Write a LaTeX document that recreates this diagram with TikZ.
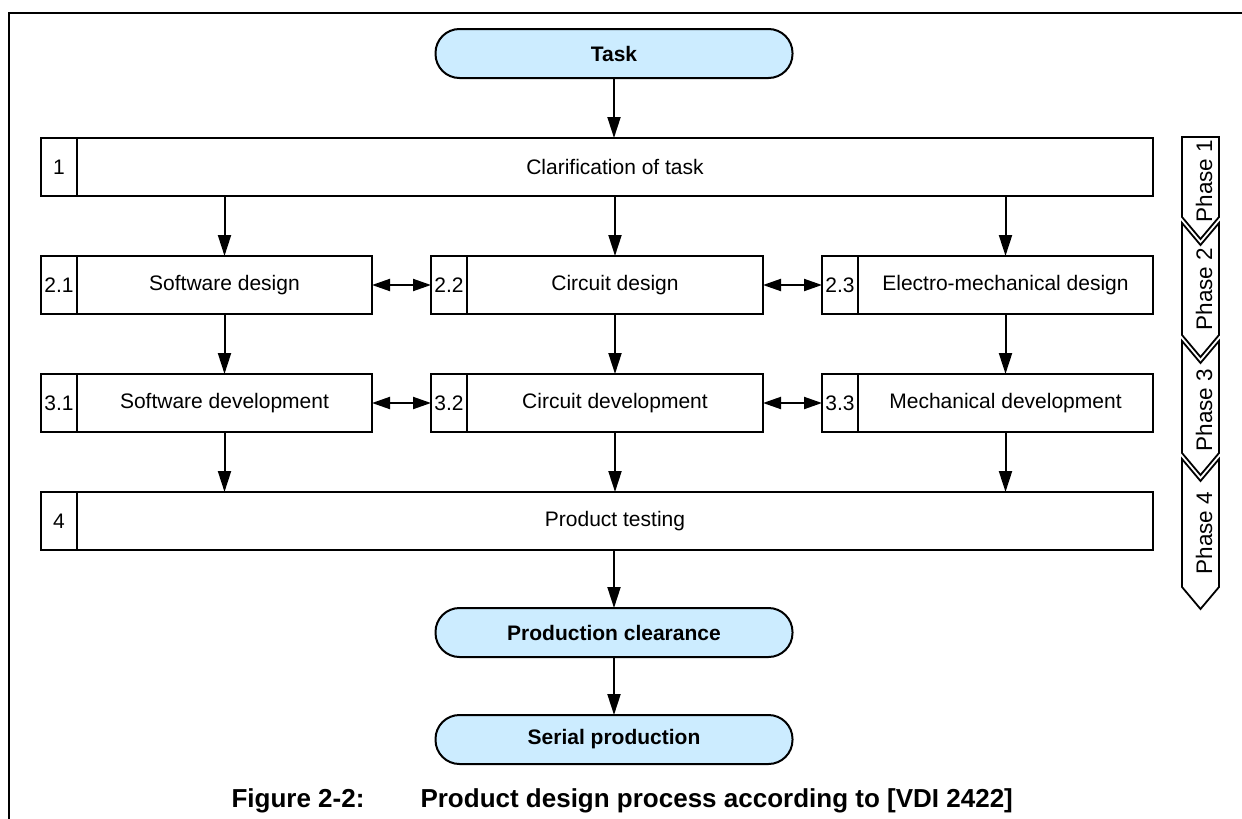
\documentclass[tikz,border=0pt]{standalone}
\usepackage{fontspec}
\setmainfont{Liberation Sans}
\usetikzlibrary{arrows.meta}
\definecolor{pillblue}{HTML}{CCECFF}
\begin{document}
\begin{tikzpicture}[x=1pt,y=-1pt,
  every node/.style={font=\fontsize{21}{25}\selectfont},
  cell/.style={draw, line width=1.4pt, minimum height=58pt, inner sep=0pt,
    outer sep=0pt, anchor=north west},
  numcell/.style={cell, minimum width=36pt},
  pill/.style={draw, line width=2pt, fill=pillblue, rounded corners=24pt,
    minimum width=357pt, minimum height=49pt, inner sep=0pt, outer sep=0pt,
    anchor=north, font=\bfseries\fontsize{21}{25}\selectfont},
  flow/.style={line width=2pt, -{Triangle[length=21pt,width=13pt]}},
  both/.style={line width=2pt,
    {Triangle[length=18pt,width=12pt]}-{Triangle[length=18pt,width=12pt]}},
  phasebox/.style={draw, line width=1.8pt, fill=white, line join=miter},
  phaselabel/.style={rotate=90, font=\fontsize{22.5}{26}\selectfont},
  captionfont/.style={anchor=base west, font=\bfseries\fontsize{26}{30}\selectfont},
]
\useasboundingbox (0,0) rectangle (1242,819);

% frame
\draw[line width=2.4pt] (9,819) -- (9,13) -- (1242,13);

% start / end terminals
\node[pill] (task) at (614,29) {Task};
\node[pill] (clear) at (614,608) {Production clearance};
\node[pill] (serial) at (614,715) {Serial production};

% phase 1
\node[numcell] (n1) at (41,138) {1};
\node[cell, minimum width=1076pt] (t1) at (77,138) {Clarification of task};

% phase 2
\node[numcell] (n21) at (41,256) {2.1};
\node[cell, minimum width=295pt] (t21) at (77,256) {Software design};
\node[numcell] (n22) at (431,256) {2.2};
\node[cell, minimum width=296pt] (t22) at (467,256) {Circuit design};
\node[numcell] (n23) at (822,256) {2.3};
\node[cell, minimum width=295pt] (t23) at (858,256) {Electro-mechanical design};

% phase 3
\node[numcell] (n31) at (41,374) {3.1};
\node[cell, minimum width=295pt] (t31) at (77,374) {Software development};
\node[numcell] (n32) at (431,374) {3.2};
\node[cell, minimum width=296pt] (t32) at (467,374) {Circuit development};
\node[numcell] (n33) at (822,374) {3.3};
\node[cell, minimum width=295pt] (t33) at (858,374) {Mechanical development};

% phase 4
\node[numcell] (n4) at (41,492) {4};
\node[cell, minimum width=1076pt] (t4) at (77,492) {Product testing};

% flow
\draw[flow] (task.south) -- (task.south |- t1.north);
\foreach \c in {21,22,23}{
  \draw[flow] (t\c.north |- t1.south) -- (t\c.north);
}
\foreach \a/\b in {21/31,22/32,23/33}{
  \draw[flow] (t\a.south) -- (t\b.north);
  \draw[flow] (t\b.south) -- (t\b.south |- t4.north);
}
\draw[both] (t21.east) -- (n22.west);
\draw[both] (t22.east) -- (n23.west);
\draw[both] (t31.east) -- (n32.west);
\draw[both] (t32.east) -- (n33.west);
\draw[flow] (clear.north |- t4.south) -- (clear.north);
\draw[flow] (clear.south) -- (serial.north);

% phase chevrons
\def\pl{1182}\def\pr{1219}\def\pm{1200.5}\def\pd{22}
\draw[phasebox] (\pl,137) -- (\pr,137) -- (\pr,217) -- (\pm,217+\pd) -- (\pl,217) -- cycle;
\foreach \tp/\bt in {223/335,341/453,459/587}{
  \draw[phasebox] (\pl,\tp) -- (\pm,\tp+\pd) -- (\pr,\tp) -- (\pr,\bt)
    -- (\pm,\bt+\pd) -- (\pl,\bt) -- cycle;
}
\node[phaselabel] (ph1) at (1204,181) {Phase 1};
\node[phaselabel] (ph2) at (1204,289) {Phase 2};
\node[phaselabel] (ph3) at (1204,410) {Phase 3};
\node[phaselabel] (ph4) at (1204,533) {Phase 4};

% caption
\node[captionfont] (capnum) at (228,807) {Figure 2-2:};
\node[captionfont] (captext) at (417,807) {Product design process according to [VDI 2422]};
\end{tikzpicture}
\end{document}
